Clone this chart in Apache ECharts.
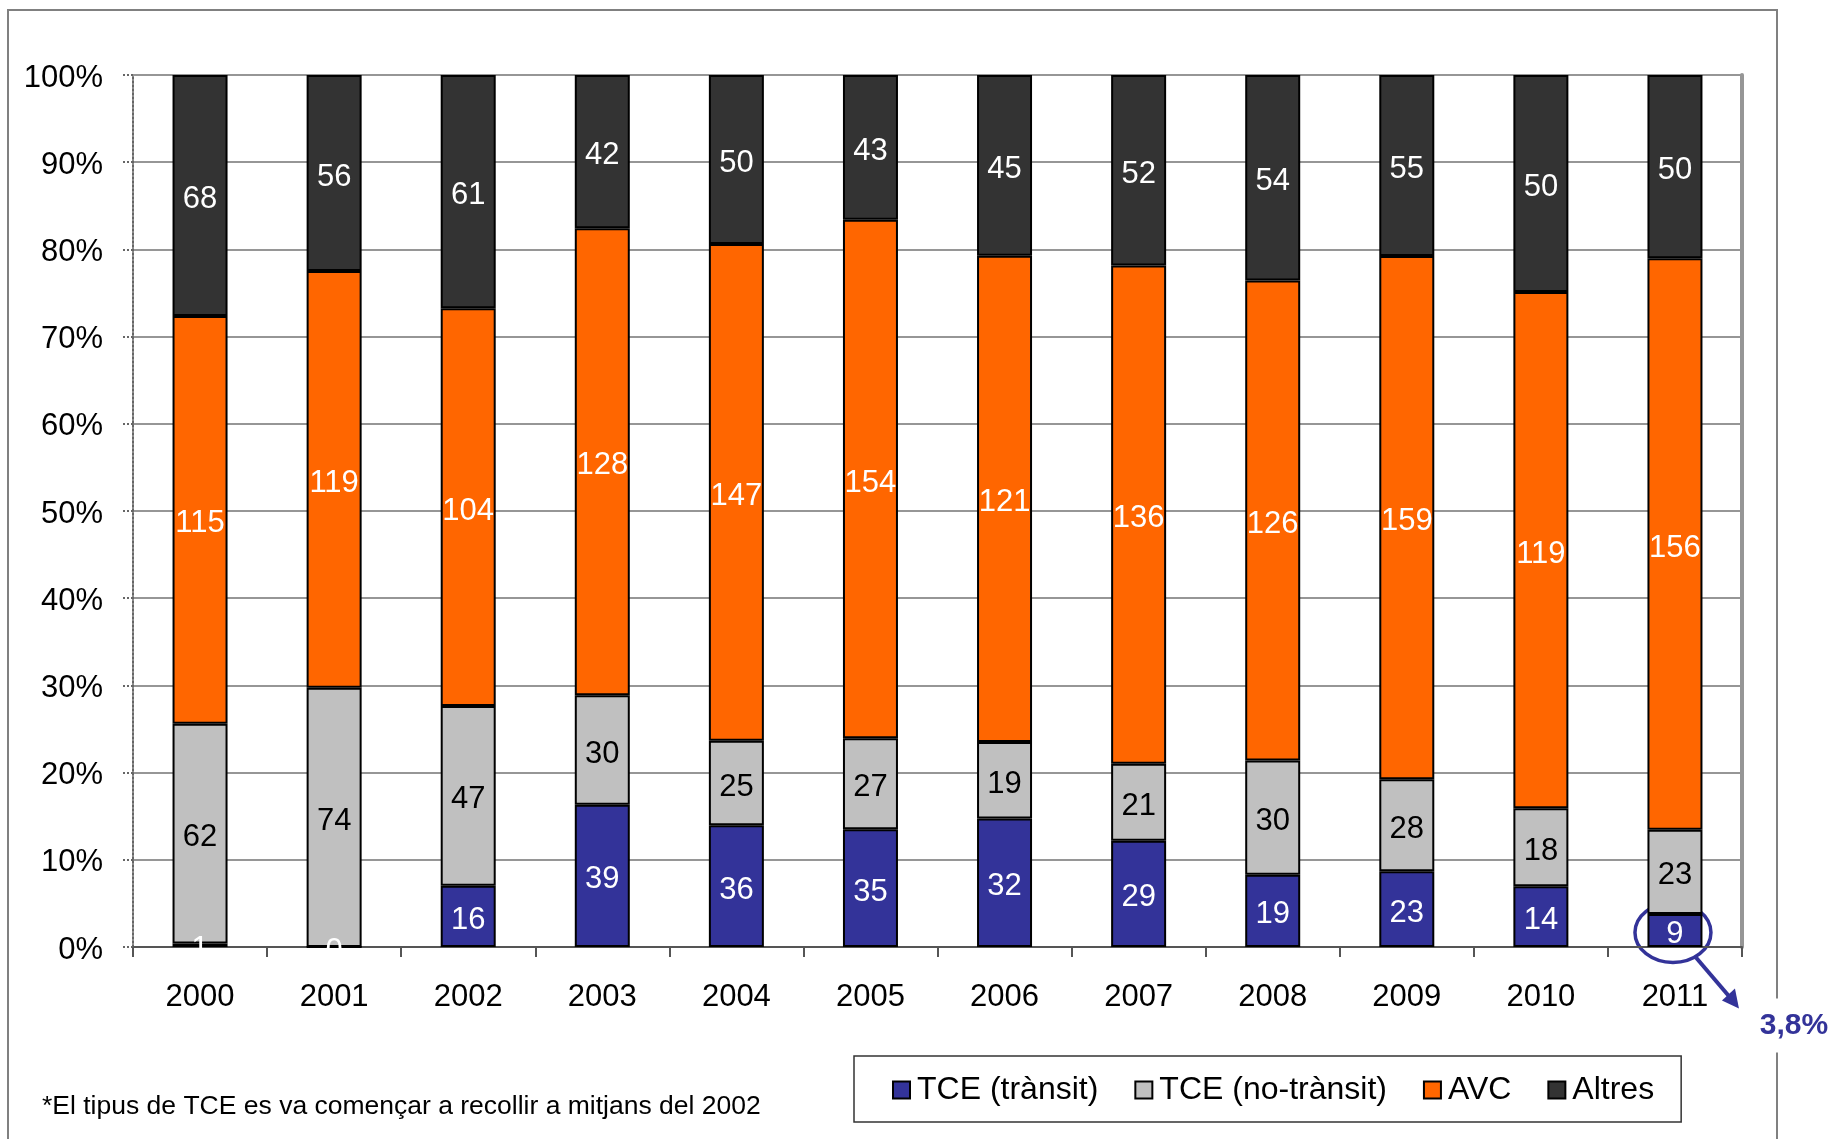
<!DOCTYPE html>
<html>
<head>
<meta charset="utf-8">
<script src="https://cdn.jsdelivr.net/npm/echarts@6/dist/echarts.min.js"></script>
<style>
html,body{margin:0;padding:0;background:#fff;}
#chart{width:1835px;height:1139px;}
</style>
</head>
<body>
<div id="chart"></div>
<script>
const years = ['2000','2001','2002','2003','2004','2005','2006','2007','2008','2009','2010','2011'];
const seriesNames = ['TCE (trànsit)','TCE (no-trànsit)','AVC','Altres'];
const tceTransit   = [1, 0, 16, 39, 36, 35, 32, 29, 19, 23, 14, 9];
const tceNoTransit = [62, 74, 47, 30, 25, 27, 19, 21, 30, 28, 18, 23];
const avc          = [115, 119, 104, 128, 147, 154, 121, 136, 126, 159, 119, 156];
const altres       = [68, 56, 61, 42, 50, 43, 45, 52, 54, 55, 50, 50];
const footnote = '*El tipus de TCE es va començar a recollir a mitjans del 2002';

const FONT = '"Liberation Sans", Arial, sans-serif';
const colors = ['#333399', '#C0C0C0', '#FF6600', '#333333'];
const labelColors = ['#ffffff', '#000000', '#ffffff', '#ffffff'];
const counts = [tceTransit, tceNoTransit, avc, altres];
const totals = years.map((_, i) => counts.reduce((s, arr) => s + arr[i], 0));

const chart = echarts.init(document.getElementById('chart'), null, {renderer: 'canvas'});

const series = counts.map((arr, si) => ({
  name: seriesNames[si],
  type: 'bar',
  stack: 'total',
  barWidth: 55,
  data: arr.map((v, i) => ({value: v / totals[i] * 100, count: v})),
  itemStyle: {color: colors[si], borderColor: '#000', borderWidth: 2},
  label: {
    show: true,
    position: 'inside',
    offset: [0, 4],
    formatter: p => String(p.data.count),
    color: labelColors[si],
    fontSize: 31,
    fontFamily: FONT
  },
  emphasis: {disabled: true}
}));

chart.setOption({
  animation: false,
  backgroundColor: '#fff',
  grid: {left: 133, top: 75, width: 1609, height: 872, containLabel: false},
  xAxis: {
    type: 'category',
    data: years,
    axisLine: {lineStyle: {color: '#555', width: 2}},
    axisTick: {show: true, length: 10, lineStyle: {color: '#555', width: 2}},
    axisLabel: {fontSize: 31, color: '#000', fontFamily: FONT, margin: 35}
  },
  yAxis: [{
    type: 'value',
    min: 0, max: 100, interval: 10,
    axisLabel: {
      formatter: v => '{a|' + v + '%}',
      margin: 30,
      rich: {a: {fontSize: 31, color: '#000', fontFamily: FONT, padding: [6, 0, 0, 0]}}
    },
    axisLine: {show: true, lineStyle: {color: '#666', width: 2, type: 'dotted'}},
    axisTick: {show: true, length: 10, lineStyle: {color: '#666', width: 2, type: 'dotted'}},
    splitLine: {show: true, lineStyle: {color: '#969696', width: 2}}
  }, {
    type: 'value',
    position: 'right',
    min: 0, max: 100, interval: 10,
    axisLabel: {show: false},
    axisTick: {show: false},
    splitLine: {show: false},
    axisLine: {show: true, lineStyle: {color: '#969696', width: 4}}
  }],
  legend: {
    data: seriesNames,
    left: 854, top: 1056,
    orient: 'horizontal',
    padding: [18, 27, 16, 38],
    borderColor: '#333',
    borderWidth: 1.5,
    itemGap: 36,
    itemWidth: 17,
    itemHeight: 17,
    icon: 'rect',
    textStyle: {fontSize: 32, color: '#000', fontFamily: FONT, padding: [3, 0, 0, 2]}
  },
  series: series
});

// Decorations: outer frame, footnote and annotation for 2011 transit share
const lastIdx = years.length - 1;
const lastPct = tceTransit[lastIdx] / totals[lastIdx] * 100;
const center = chart.convertToPixel({gridIndex: 0}, [lastIdx, lastPct / 2]);
const pctText = lastPct.toFixed(1).replace('.', ',') + '%';
const navy = '#333399';

chart.setOption({
  graphic: [
    {type: 'rect', z: -1, silent: true, shape: {x: 8, y: 10, width: 1769, height: 1200},
     style: {fill: null, stroke: '#808080', lineWidth: 2}},
    {type: 'text', left: 42, top: 1093, silent: true,
     style: {text: footnote, fill: '#000', font: '26.5px ' + FONT}},
    {type: 'group', x: center[0], y: center[1], z: 100, silent: true, children: [
      {type: 'ellipse', shape: {cx: -2, cy: 2, rx: 38, ry: 30},
       style: {fill: null, stroke: navy, lineWidth: 3.5}},
      {type: 'line', shape: {x1: 21, y1: 27, x2: 56, y2: 68},
       style: {stroke: navy, lineWidth: 4}},
      {type: 'polygon', shape: {points: [[64, 78], [47, 70], [60, 58]]},
       style: {fill: navy}},
      {type: 'text', x: 119, y: 95,
       style: {text: pctText, font: 'bold 30px ' + FONT, fill: navy,
               align: 'center', verticalAlign: 'middle',
               backgroundColor: '#fff', padding: [12, 4, 12, 4]}}
    ]}
  ]
});
</script>
</body>
</html>
